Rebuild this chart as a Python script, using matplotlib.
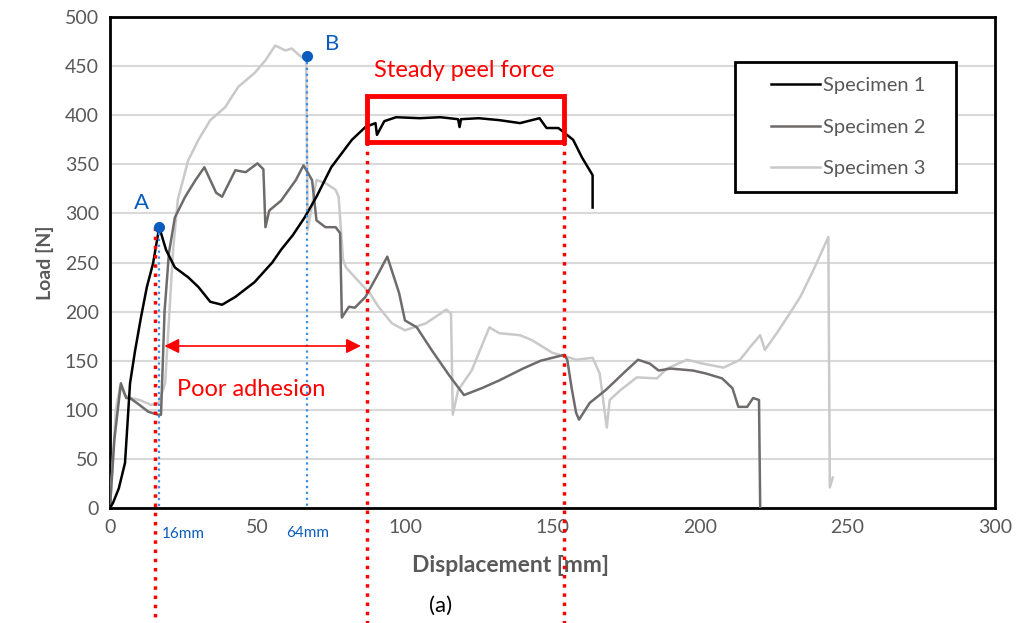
import matplotlib
matplotlib.use('Agg')
import matplotlib.pyplot as plt
from matplotlib.patches import Rectangle
from matplotlib.legend_handler import HandlerLine2D

plt.rcParams['font.family'] = ['Lato', 'DejaVu Sans']

# Specimen 1 (black)
s1_x = [0, 1, 3, 5.1, 6.8, 8.5, 10.5, 12.5, 14.6, 16.7, 19, 22, 26.5, 30, 34, 38, 42.5, 49, 55, 58,
        62, 66, 70, 75, 82, 86.6, 90, 90.5, 93, 97, 105, 112, 118, 118.5, 119, 125, 132, 139,
        145.6, 148, 152, 157, 160, 163.6, 163.6]
s1_y = [0, 5, 20, 46, 127, 160, 194, 225, 249, 286, 263, 245, 235, 225, 210, 207, 215, 230, 250, 263,
        278, 296, 317, 347, 375, 388, 392, 380, 394, 398, 397, 398, 396, 388, 396, 397, 395, 392,
        397, 387, 387, 375, 357, 339, 306]

# Specimen 2 (dark grey)
s2_x = [0, 1.5, 3.7, 5.5, 6.8, 10, 13, 16.3, 17.3, 18.5, 20, 22, 25.5, 29, 32, 36, 38, 42.5, 46, 50,
        52, 52.7, 54, 58, 63, 65.6, 68.5, 70, 73, 76.5, 78, 78.6, 81, 83, 86.6, 91, 94, 98, 100,
        104, 109, 115, 120, 126, 132, 140, 146, 154, 155, 156.5, 158, 159, 162.6, 168, 175, 179,
        183, 186, 190, 197.6, 202, 207.5, 211, 213, 216, 218, 220, 220.4]
s2_y = [0, 70, 127, 112, 112, 105, 98, 95, 95, 200, 260, 296, 317, 334, 347, 321, 317, 344, 342, 351,
        345, 286, 303, 313, 334, 349, 334, 293, 286, 286, 280, 194, 205, 204, 215, 239, 256, 219, 191,
        184, 161, 135, 115, 122, 130, 142, 150, 156, 151, 122, 97, 90, 107, 120, 140, 151,
        147, 140, 142, 140, 137, 132, 122, 103, 103, 112, 110, 1]

# Specimen 3 (light grey)
s3_x = [0, 1, 2, 3.5, 5, 7, 10, 14, 16.5, 18.7, 20.4, 21.4, 23, 26.5, 30, 34, 39, 43.5, 49, 52.7,
        56, 59.5, 61.6, 65, 66.5, 67, 70, 73, 76.5, 77.5, 79, 80, 83, 88, 91, 95.6, 100, 107,
        114, 115.6, 116.2, 118, 122.6, 128.6, 132, 139, 143, 150, 154.8, 158, 163.6, 166, 168.4,
        169.4, 173, 178.6, 185.4, 188.8, 195.6, 201, 208, 213.6, 217, 220.4, 222, 226, 230.6, 234,
        238.4, 243.5, 244, 245]
s3_y = [0, 50, 100, 125, 115, 112, 110, 105, 107, 127, 212, 263, 314, 354, 375, 395, 408, 429, 443, 456,
        471, 466, 468, 459, 462, 283, 334, 331, 324, 317, 253, 245, 235, 219, 205, 188, 181, 188,
        202, 198, 95, 120, 140, 184, 178, 176, 171, 158, 154, 151, 153, 137, 82,
        110, 120, 133, 132, 142, 151, 147, 143, 151, 164, 176, 161, 178, 199, 215,
        242, 276, 21, 31]

# Annotation points
point_a = (16.7, 286)
point_b = (66.7, 460)
steady_x = [87, 154]
steady_y = [373, 420]
poor_x = [17.5, 86]
poor_y = 165


class PaddedLine(HandlerLine2D):
    # legend line that starts a bit to the right, like Excel's
    def create_artists(self, legend, orig_handle, xdescent, ydescent, width, height, fontsize, trans):
        pad = 0.3 * width
        return super().create_artists(legend, orig_handle, xdescent - pad, ydescent,
                                      width - pad, height, fontsize, trans)


fig = plt.figure(figsize=(10.22, 6.23), dpi=100)
ax = fig.add_axes([0.1076, 0.1846, 0.866, 0.788])

txt = '#595959'
ax.plot(s3_x, s3_y, color='#c9c9c9', lw=1.8, label='Specimen 3', zorder=3)
ax.plot(s2_x, s2_y, color='#6f6b6b', lw=1.8, label='Specimen 2', zorder=4)
ax.plot(s1_x, s1_y, color='black', lw=1.8, label='Specimen 1', zorder=5)

ax.set_xlim(0, 300)
ax.set_ylim(0, 500)
ax.set_xticks(range(0, 301, 50))
ax.set_yticks(range(0, 501, 50))
ax.yaxis.grid(True, color='#d9d9d9', lw=1.5)
ax.set_axisbelow(True)
ax.tick_params(length=0, labelsize=14, labelcolor=txt, pad=8)
for sp in ax.spines.values():
    sp.set_color('black')
    sp.set_linewidth(2)

ax.set_xlabel('Displacement [mm]', fontsize=16.5, fontweight='bold', color=txt)
ax.xaxis.set_label_coords(0.453, -0.095)
ax.set_ylabel('Load [N]', fontsize=14, fontweight='bold', color=txt, labelpad=8)

# legend in the order specimen 1, 2, 3 (trailing spaces widen the box on the right)
h, l = ax.get_legend_handles_labels()
leg = ax.legend(h[::-1], [s + '   ' for s in l[::-1]], loc='upper right',
                bbox_to_anchor=(0.956, 0.908), handler_map={h[0]: PaddedLine(), h[1]: PaddedLine(),
                                                            h[2]: PaddedLine()},
                fontsize=14.5, labelcolor=txt, frameon=True, fancybox=False,
                labelspacing=1.2, handlelength=3.45, handletextpad=0.15,
                borderpad=0.75, borderaxespad=0)
leg.get_frame().set_edgecolor('black')
leg.get_frame().set_linewidth(2)
leg.get_frame().set_alpha(1)
for t in leg.get_texts():
    t.set_color(txt)
leg.set_zorder(10)

# red dotted guide lines, running below the axes
red = '#ff0000'
ax.plot([point_a[0] - 1.5, point_a[0] - 1.5], [point_a[1], -120], ls=':', color=red, lw=2.5,
        clip_on=False, zorder=6)
for xv in steady_x:
    ax.plot([xv, xv], [steady_y[0], -120], ls=':', color=red, lw=2.5, clip_on=False, zorder=6)

# blue dotted lines and points
ax.plot([point_a[0], point_a[0]], [point_a[1], 0], ls=':', color='#3b8fe0', lw=1.6, zorder=6)
ax.plot([point_b[0], point_b[0]], [point_b[1], 0], ls=':', color='#3b8fe0', lw=1.6, zorder=6)
ax.plot([point_a[0], point_b[0]], [point_a[1], point_b[1]], 'o', color='#0b5cbf', ms=7, zorder=7)
ax.text(point_a[0] - 6, point_a[1] + 14, 'A', color='#0b5cbf', fontsize=16, ha='center', va='bottom')
ax.text(point_b[0] + 8.5, point_b[1] + 2, 'B', color='#0b5cbf', fontsize=16, ha='center', va='bottom')
ax.text(25, -26, '16mm', color='#0b5cbf', fontsize=11, ha='center', va='center')
ax.text(67, -25, '64mm', color='#0b5cbf', fontsize=11, ha='center', va='center')

# steady peel force box
ax.add_patch(Rectangle((steady_x[0], steady_y[0]), steady_x[1] - steady_x[0],
                       steady_y[1] - steady_y[0], fill=False, ec=red, lw=3.5, zorder=8))
ax.text(120, 446, 'Steady peel force', color=red, fontsize=17, ha='center', va='center')

# poor adhesion arrow
ax.annotate('', xy=(poor_x[0], poor_y), xytext=(poor_x[1], poor_y),
            arrowprops=dict(arrowstyle='<|-|>', color=red, lw=1.2, mutation_scale=22), zorder=8)
ax.text(48, 121, 'Poor adhesion', color=red, fontsize=17, ha='center', va='center')

fig.text(0.4315, 0.027, '(a)', fontsize=16, color='black', ha='center', va='center')

fig.savefig('out.png', dpi=100)
